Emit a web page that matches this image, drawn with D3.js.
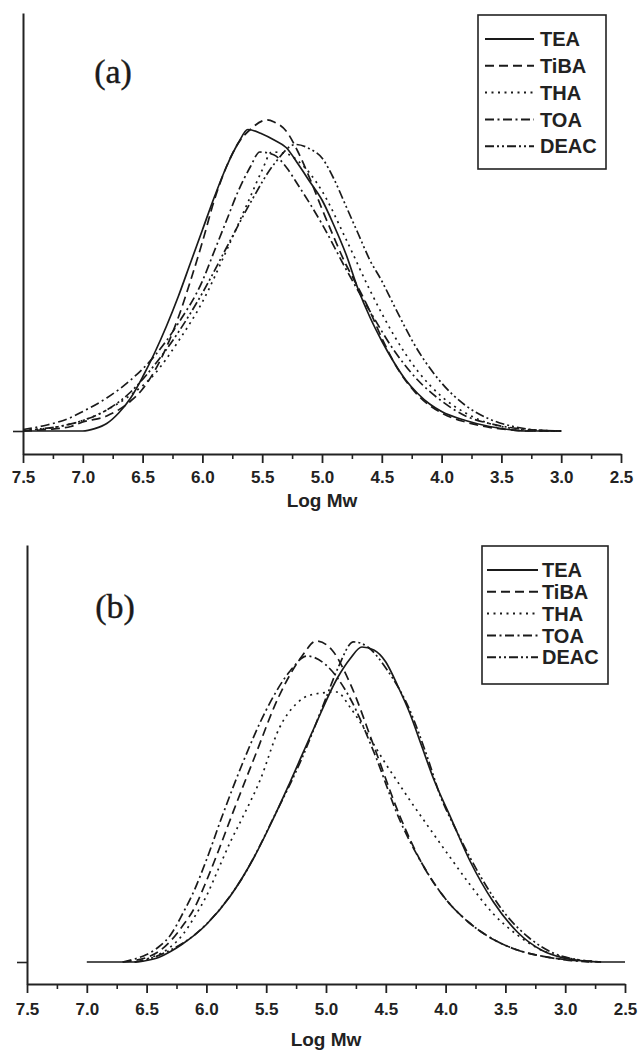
<!DOCTYPE html>
<html>
<head>
<meta charset="utf-8">
<script src="https://cdn.jsdelivr.net/npm/d3@7"></script>
<style>
  body { margin: 0; background: #fff; }
  svg { display: block; }
</style>
</head>
<body>
<script>
const width = 638
const height = 1051

// series names and tick labels
const seriesNames = ['TEA', 'TiBA', 'THA', 'TOA', 'DEAC']
const xTicks = [7.5, 7.0, 6.5, 6.0, 5.5, 5.0, 4.5, 4.0, 3.5, 3.0, 2.5]
const xMinorTicks = [7.25, 6.75, 6.25, 5.75, 5.25, 4.75, 4.25, 3.75, 3.25, 2.75]

// panel (a): [Log Mw, signal]
const a_TEA = [[7.5,0],[7.0,0],[6.9,0.8],[6.8,2.5],[6.7,6],[6.6,11],[6.5,18],[6.4,26],[6.3,35],[6.2,45],[6.1,56],[6.0,67],[5.9,78],[5.8,88],[5.7,96],[5.62,100.5],[5.5,99],[5.4,97],[5.3,94.5],[5.2,89],[5.1,83],[5.0,77],[4.9,68.5],[4.8,59],[4.7,47.5],[4.6,38],[4.5,30],[4.4,23],[4.3,17],[4.2,12.5],[4.1,9],[4.0,6.5],[3.8,3.5],[3.6,1.5],[3.4,0.3],[3.3,0],[3.0,0]]
const a_TiBA = [[7.5,0],[7.3,0.5],[7.1,1.5],[7.0,3],[6.8,5],[6.6,10],[6.5,14],[6.4,20],[6.3,28],[6.2,38],[6.1,50],[6.0,63],[5.9,77],[5.8,88],[5.7,96],[5.6,100.5],[5.46,103.7],[5.4,103],[5.3,100],[5.2,93],[5.1,84],[5.0,74],[4.9,64.5],[4.8,55.5],[4.74,51],[4.6,40],[4.5,31],[4.4,23],[4.2,12],[4.0,6],[3.8,3],[3.6,1.2],[3.4,0.3],[3.3,0],[3.0,0]]
const a_THA = [[7.5,0.3],[7.2,1.5],[7.0,3.5],[6.8,7],[6.6,12],[6.4,19],[6.2,30],[6.0,43],[5.8,60],[5.6,78],[5.5,87],[5.42,93],[5.3,92.5],[5.2,90],[5.0,80],[4.8,64],[4.6,47],[4.4,32],[4.2,20],[4.0,11.5],[3.8,6],[3.6,2.5],[3.4,0.8],[3.2,0],[3.0,0]]
const a_TOA = [[7.5,0.5],[7.3,2],[7.1,4.5],[7.0,6.5],[6.8,11],[6.6,17],[6.4,25],[6.2,36],[6.0,50],[5.9,60],[5.8,70],[5.7,80],[5.6,88],[5.52,93],[5.4,92],[5.3,88],[5.2,82],[5.0,69],[4.8,54],[4.6,40],[4.4,27],[4.2,17],[4.0,10],[3.8,5],[3.6,2.5],[3.4,1],[3.2,0.3],[3.0,0]]
const a_DEAC = [[7.5,0],[7.4,0.5],[7.2,1.5],[7.0,3.5],[6.8,7],[6.6,13],[6.4,22],[6.2,33],[6.0,46],[5.8,61],[5.6,76],[5.4,89],[5.22,95.5],[5.1,94],[5.0,91],[4.9,84],[4.8,75],[4.7,66],[4.6,57],[4.5,50],[4.4,42],[4.2,27],[4.0,16],[3.8,8.5],[3.6,4],[3.4,1.5],[3.2,0.3],[3.0,0]]

// panel (b): [Log Mw, signal]
const b_TEA = [[7.0,0],[6.6,0],[6.5,0.5],[6.4,1.5],[6.3,3.5],[6.2,6],[6.0,12.5],[5.8,22],[5.6,35],[5.45,47],[5.3,60],[5.1,78],[4.9,95],[4.8,101],[4.7,105],[4.6,104],[4.5,100],[4.4,92],[4.3,83],[4.2,72],[4.1,61],[3.96,48.4],[3.8,34],[3.6,20],[3.4,10],[3.2,4],[3.0,1.2],[2.8,0.2],[2.7,0],[2.5,0]]
const b_TiBA = [[6.7,0],[6.6,0.5],[6.5,1.5],[6.4,3.5],[6.3,7],[6.2,12],[6.1,18],[6.0,27],[5.9,37],[5.77,50.7],[5.6,68],[5.4,88],[5.2,102],[5.08,107],[4.95,104],[4.8,93],[4.6,72],[4.38,48.4],[4.2,33],[4.0,21],[3.8,13],[3.6,7.5],[3.4,4],[3.2,2],[3.0,0.8],[2.8,0.2],[2.7,0]]
const b_THA = [[6.6,0],[6.5,1],[6.4,2.5],[6.3,5],[6.2,9],[6.1,15],[6.0,22],[5.9,31],[5.8,40],[5.7,48],[5.55,60.7],[5.39,78],[5.25,86],[5.13,89],[4.91,90],[4.8,85],[4.7,79],[4.6,72.5],[4.5,66],[4.4,60],[4.3,54],[4.16,46],[4.0,37],[3.8,26],[3.6,16],[3.4,9],[3.2,4],[3.0,1.5],[2.8,0.3],[2.7,0]]
const b_TOA = [[6.7,0],[6.6,1],[6.5,2.5],[6.4,5],[6.3,9],[6.2,16],[6.1,24],[6.0,34],[5.87,48.4],[5.7,66],[5.5,84],[5.3,97],[5.16,102],[5.0,99],[4.8,88],[4.6,70],[4.38,47],[4.2,33],[4.0,21],[3.8,13],[3.6,7.5],[3.4,4],[3.2,2],[3.0,0.7],[2.8,0]]
const b_DEAC = [[6.6,0],[6.5,0.8],[6.3,4],[6.1,9],[5.9,17],[5.7,28],[5.42,49.6],[5.2,68],[5.0,88],[4.9,98],[4.77,106.7],[4.65,105],[4.5,98],[4.3,84],[4.15,68],[4.05,56],[3.9,43],[3.7,28],[3.5,16],[3.3,8],[3.1,3],[2.9,0.8],[2.7,0]]

const dashes = {
  TEA: null,
  TiBA: '9,5',
  THA: '2,4.5',
  TOA: '9,3.5,2,3.5',
  DEAC: '9,3,2,3,2,3'
}

const panels = [
  {
    label: '(a)', labelX: 113, labelY: 83,
    data: [a_TEA, a_TiBA, a_THA, a_TOA, a_DEAC],
    left: 23, right: 621, axisY: 454, top: 13, base: 431,
    tickPad: 8, titleY: 507,
    legend: { x: 478, y: 15, w: 128, h: 154, first: 39, step: 26.8, lx0: 485, lx1: 534, tx: 540 }
  },
  {
    label: '(b)', labelX: 115, labelY: 618,
    data: [b_TEA, b_TiBA, b_THA, b_TOA, b_DEAC],
    left: 27, right: 625, axisY: 984, top: 545, base: 962,
    tickPad: 10, titleY: 1046,
    legend: { x: 482, y: 546, w: 126, h: 138, first: 570, step: 21.8, lx0: 487, lx1: 538, tx: 542 }
  }
]

const svg = d3.select('body').append('svg').attr('width', width).attr('height', height)

panels.forEach(p => {
  const g = svg.append('g')

  const x = d3.scaleLinear().domain([7.5, 2.5]).range([p.left, p.right])
  // 3px per unit, baseline at p.base
  const y = d3.scaleLinear()
    .domain([(p.base - p.axisY) / 3, (p.base - p.top) / 3])
    .range([p.axisY, p.top])

  // minor ticks
  g.append('g')
    .attr('transform', `translate(0,${p.axisY})`)
    .call(d3.axisBottom(x).tickValues(xMinorTicks).tickFormat('').tickSize(5).tickSizeOuter(0))
    .call(s => s.select('.domain').remove())
    .call(s => s.selectAll('line').attr('stroke', '#222').attr('stroke-width', 1.6))

  // major ticks
  g.append('g')
    .attr('transform', `translate(0,${p.axisY})`)
    .call(d3.axisBottom(x).tickValues(xTicks).tickFormat(d3.format('.1f')).tickSize(9).tickSizeOuter(0).tickPadding(p.tickPad))
    .call(s => s.select('.domain').attr('stroke', '#222').attr('stroke-width', 2))
    .call(s => s.selectAll('line').attr('stroke', '#222').attr('stroke-width', 1.8))
    .call(s => s.selectAll('text')
      .attr('font-family', 'Liberation Sans, Arial, sans-serif')
      .attr('font-size', 17)
      .attr('font-weight', 'bold')
      .attr('fill', '#222'))

  // y axis: only a bare tick at zero
  g.append('g')
    .attr('transform', `translate(${p.left},0)`)
    .call(d3.axisLeft(y).tickValues([0]).tickFormat('').tickSize(10).tickSizeOuter(0))
    .call(s => s.select('.domain').attr('stroke', '#222').attr('stroke-width', 2))
    .call(s => s.selectAll('line').attr('stroke', '#222').attr('stroke-width', 1.6))

  g.append('text')
    .attr('x', (p.left + p.right) / 2)
    .attr('y', p.titleY)
    .attr('text-anchor', 'middle')
    .attr('font-family', 'Liberation Sans, Arial, sans-serif')
    .attr('font-size', 19)
    .attr('font-weight', 'bold')
    .attr('fill', '#222')
    .text('Log Mw')

  g.append('text')
    .attr('x', p.labelX)
    .attr('y', p.labelY)
    .attr('text-anchor', 'middle')
    .attr('font-family', 'Liberation Serif, Times New Roman, serif')
    .attr('font-size', 34)
    .attr('fill', '#1a1a1a')
    .attr('stroke', '#1a1a1a')
    .attr('stroke-width', 0.4)
    .text(p.label)

  const line = d3.line()
    .x(d => x(d[0]))
    .y(d => y(d[1]))
    .curve(d3.curveMonotoneX)

  g.selectAll('path.curve')
    .data(p.data)
    .join('path')
    .attr('class', 'curve')
    .attr('d', line)
    .attr('fill', 'none')
    .attr('stroke', '#1a1a1a')
    .attr('stroke-width', 1.7)
    .attr('stroke-dasharray', (d, i) => dashes[seriesNames[i]])

  // legend
  const L = p.legend
  g.append('rect')
    .attr('x', L.x).attr('y', L.y)
    .attr('width', L.w).attr('height', L.h)
    .attr('fill', '#fff')
    .attr('stroke', '#222')
    .attr('stroke-width', 1.6)

  const items = g.selectAll('g.legend-item')
    .data(seriesNames)
    .join('g')
    .attr('class', 'legend-item')
    .attr('transform', (d, i) => `translate(0,${L.first + i * L.step})`)

  items.append('line')
    .attr('x1', L.lx0).attr('x2', L.lx1)
    .attr('stroke', '#1a1a1a')
    .attr('stroke-width', 2)
    .attr('stroke-dasharray', d => dashes[d])

  items.append('text')
    .attr('x', L.tx)
    .attr('dy', '0.36em')
    .attr('font-family', 'Liberation Sans, Arial, sans-serif')
    .attr('font-size', 20)
    .attr('font-weight', 'bold')
    .attr('fill', '#222')
    .text(d => d)
})
</script>
</body>
</html>
